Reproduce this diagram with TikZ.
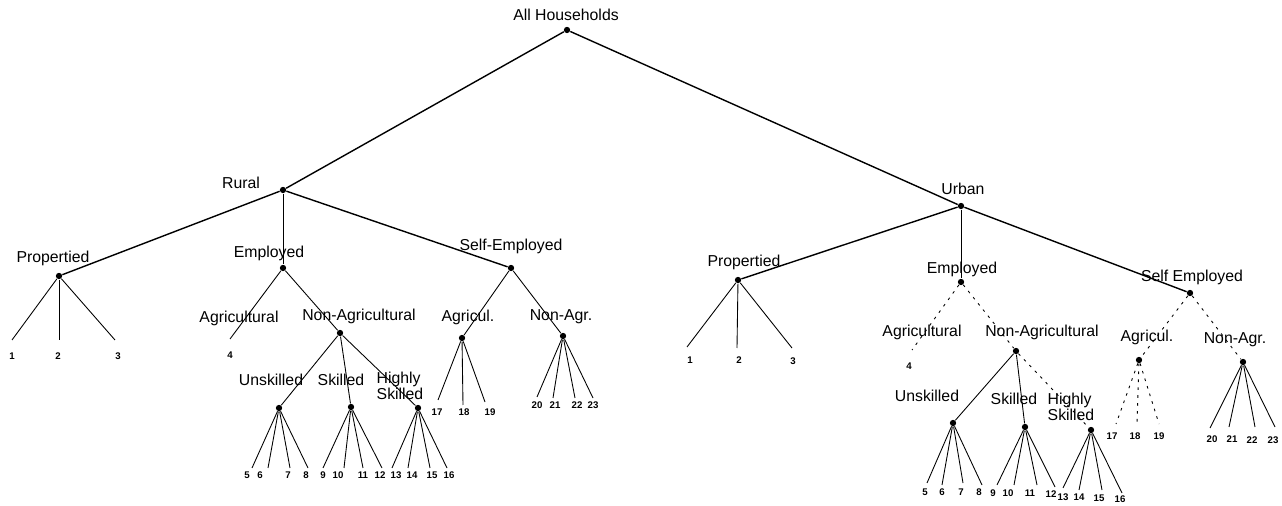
\documentclass[tikz,border=0pt]{standalone}
\usepackage{fontspec}
\setmainfont{Liberation Sans}
\tikzset{
  dot/.style={circle,fill,inner sep=0pt,minimum size=3.6pt},
  lab/.style={font=\fontsize{9}{7.6}\selectfont,inner sep=0pt},
  num/.style={font=\fontsize{5.5}{5.5}\selectfont\bfseries,inner sep=0pt},
  faint/.style={dash pattern=on 1.5pt off 3pt}
}

\begin{document}
\begin{tikzpicture}
[x=.02cm,y=-.02cm,line width=.5pt]
\useasboundingbox (0,0) rectangle (1282,506);

\node[dot] (all) at (567,30) {};
\node[lab] (allL) at (566,15) {All Households};
\node[dot] (r) at (283,190) {};
\node[lab] (rL) at (241,183) {Rural};
\node[dot] (u) at (961,206) {};
\node[lab] (uL) at (963,189) {Urban};

% rural side
\node[dot] (rp) at (59,276) {};
\node[lab] (rpL) at (53,258) {Propertied};
\node[dot] (re) at (283,268) {};
\node[lab] (reL) at (269,253) {Employed};
\node[dot] (rs) at (511,268) {};
\node[lab] (rsL) at (511,246) {Self-Employed};
\node[lab] (raL) at (239,318) {Agricultural};
\node[dot] (rna) at (340,333) {};
\node[lab] (rnaL) at (359,316) {Non-Agricultural};
\node[dot] (ru) at (279,408) {};
\node[lab] (ruL) at (271,380) {Unskilled};
\node[dot] (rsk) at (351,407) {};
\node[lab] (rskL) at (341,380) {Skilled};
\node[dot] (rh) at (418,408) {};
\node[lab,align=left] (rhL) at (400,386) {Highly\\Skilled};
\node[dot] (ra) at (462,338) {};
\node[lab] (raaL) at (468,317) {Agricul.};
\node[dot] (rn) at (563,336) {};
\node[lab] (rnL) at (561,317) {Non-Agr.};

% urban side
\node[dot] (up) at (738,280) {};
\node[lab] (upL) at (744,262) {Propertied};
\node[dot] (ue) at (961,282) {};
\node[lab] (ueL) at (962,269) {Employed};
\node[dot] (us) at (1190,293) {};
\node[lab] (usL) at (1192,277) {Self Employed};
\node[lab] (uaL) at (922,332) {Agricultural};
\node[dot] (una) at (1016,351) {};
\node[lab] (unaL) at (1042,332) {Non-Agricultural};
\node[dot] (uu) at (953,423) {};
\node[lab] (uuL) at (927,396) {Unskilled};
\node[dot] (usk) at (1025,427) {};
\node[lab] (uskL) at (1014,399) {Skilled};
\node[dot] (uh) at (1091,430) {};
\node[lab,align=left] (uhL) at (1071,407) {Highly\\Skilled};
\node[dot] (ua) at (1139,360) {};
\node[lab] (uaaL) at (1147,337) {Agricul.};
\node[dot] (un) at (1243,362) {};
\node[lab] (unL) at (1235,340) {Non-Agr.};

% leaf ends and numbers
\foreach \c/\ex/\ey/\lx/\ly/\t in {a1/12/340/12/356/1,a2/59/340/58/356/2,a3/115/340/118/356/3,a4/230/339/230/355/4,
  a5/252/468/247/475/5,a6/268/468/260/475/6,a7/290/468/288/475/7,a8/308/468/306/475/8,
  a9/323/468/323/475/9,a10/344/468/338/475/10,a11/363/468/363/475/11,a12/382/468/380/475/12,
  a13/392/468/396/475/13,a14/408/468/412/475/14,a15/430/468/432/475/15,a16/447/468/449/475/16,
  a17/438/400/437/412/17,a18/463/405/464/412/18,a19/485/402/490/412/19,
  a20/537/397/537/405/20,a21/553/398/555/405/21,a22/575/398/577/405/22,a23/593/398/593/405/23,
  b1/687/347/690/360/1,b2/737/348/739/360/2,b3/792/348/793/361/3,b4/912/350/909/366/4,
  b5/927/483/925/492/5,b6/942/485/942/492/6,b7/963/483/961/492/7,b8/982/485/979/492/8,
  b9/997/485/993/493/9,b10/1014/485/1008/493/10,b11/1037/485/1030/493/11,b12/1055/487/1051/494/12,
  b13/1063/488/1063/497/13,b14/1079/490/1079/497/14,b15/1102/490/1099/498/15,b16/1122/493/1120/499/16,
  b17/1116/424/1112/436/17,b18/1137/424/1135/436/18,b19/1159/424/1159/436/19,
  b20/1210/428/1212/439/20,b21/1229/427/1232/439/21,b22/1255/427/1252/440/22,b23/1275/427/1273/440/23}
{
\coordinate (\c) at (\ex,\ey);
\node[num] (n\c) at (\lx,\ly) {\t};
}

\foreach \from/\to in {all/r,all/u,r/rp,r/rs,u/up,u/us}
\draw[line width=.8pt] (\from) -- (\to);

\foreach \from/\to in {r/re,u/ue,re/a4,re/rna,rna/ru,rna/rsk,rna/rh,rs/ra,rs/rn,rp/a1,rp/a2,rp/a3,ru/a5,ru/a6,ru/a7,ru/a8,rsk/a9,rsk/a10,rsk/a11,rsk/a12,rh/a13,rh/a14,rh/a15,rh/a16,ra/a17,ra/a18,ra/a19,rn/a20,rn/a21,rn/a22,rn/a23,up/b1,up/b2,up/b3,una/uu,una/usk,uu/b5,uu/b6,uu/b7,uu/b8,usk/b9,usk/b10,usk/b11,usk/b12,uh/b13,uh/b14,uh/b15,uh/b16,un/b20,un/b21,un/b22,un/b23}
\draw (\from) -- (\to);

\foreach \from/\to in {ue/b4,ue/una,una/uh,us/ua,us/un,ua/b17,ua/b18,ua/b19}
\draw[faint] (\from) -- (\to);
\end{tikzpicture}
\end{document}
